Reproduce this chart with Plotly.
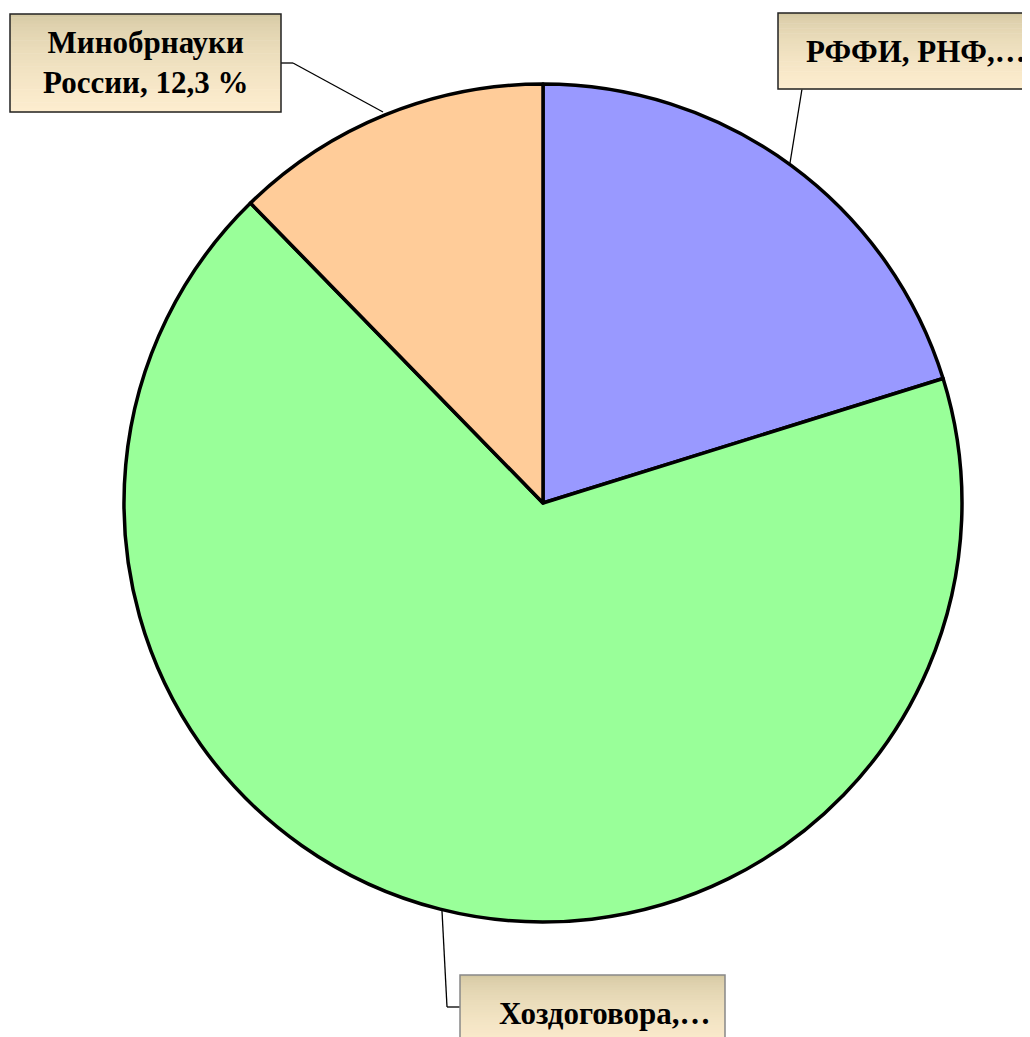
import plotly.graph_objects as go

labels = ["РФФИ, РНФ, ...", "Хоздоговора, ...", "Минобрнауки России"]
values = [20.2, 67.5, 12.3]
colors = ["#9999ff", "#99ff99", "#ffcc99"]
box_texts = ["РФФИ, РНФ,…", "Хоздоговора,…", "Минобрнауки<br>России, 12,3 %"]

W, H = 1030, 1037
OFF = 8  # page body margin

def px(x):
    return (x - OFF) / W

def py(y):
    return 1 - (y - OFF) / H

fig = go.Figure()
fig.add_trace(go.Pie(
    labels=labels, values=values, sort=False, direction="clockwise", rotation=0,
    marker=dict(colors=colors, line=dict(color="black", width=3.5)),
    textinfo="none", hoverinfo="label+percent", showlegend=False,
    domain=dict(x=[px(124), px(962)], y=[py(922), py(84)]),
))

shapes = []
top = (212, 200, 162)
bot = (253, 237, 207)

def box(x0, y0, x1, y1, border):
    n = 30
    for i in range(n):
        t = i / (n - 1)
        tt = t ** 0.6
        c = tuple(int(round(top[k] + (bot[k] - top[k]) * tt)) for k in range(3))
        ya = y0 + (y1 - y0) * i / n
        yb = y0 + (y1 - y0) * (i + 1) / n
        shapes.append(dict(type="rect", xref="paper", yref="paper",
                           x0=px(x0), x1=px(x1), y0=py(ya), y1=py(yb + 0.6),
                           fillcolor="rgb(%d,%d,%d)" % c, line=dict(width=0), layer="above"))
    shapes.append(dict(type="rect", xref="paper", yref="paper",
                       x0=px(x0), x1=px(x1), y0=py(y0), y1=py(y1),
                       fillcolor="rgba(0,0,0,0)", line=dict(color=border, width=1.5), layer="above"))

def leader(pts):
    for (xa, ya), (xb, yb) in zip(pts[:-1], pts[1:]):
        shapes.append(dict(type="line", xref="paper", yref="paper",
                           x0=px(xa), y0=py(ya), x1=px(xb), y1=py(yb),
                           line=dict(color="black", width=1.3), layer="above"))

leader([(281, 63), (293, 63), (383, 112)])
leader([(802, 89), (790, 163)])
leader([(460, 1007), (447, 1007), (442, 911)])

box(10, 14, 281, 112, "#222222")
box(778, 13, 1045, 89, "#222222")
box(460, 975, 725, 1050, "#888888")

font = dict(family="Liberation Serif, Times New Roman, serif", size=31, color="#000000")
annotations = [
    dict(xref="paper", yref="paper", x=px(804), y=py(52), text="<b>" + box_texts[0] + "</b>",
         showarrow=False, xanchor="left", yanchor="middle", font=font),
    dict(xref="paper", yref="paper", x=px(497), y=py(1013), text="<b>" + box_texts[1] + "</b>",
         showarrow=False, xanchor="left", yanchor="middle", font=font),
    dict(xref="paper", yref="paper", x=px(145), y=py(63), text="<b>" + box_texts[2] + "</b>",
         showarrow=False, xanchor="center", yanchor="middle", font=font, align="center"),
]

fig.update_layout(
    width=W, height=H, margin=dict(l=0, r=0, t=0, b=0),
    paper_bgcolor="white", plot_bgcolor="white",
    shapes=shapes, annotations=annotations,
)
fig.write_html("out.html")
